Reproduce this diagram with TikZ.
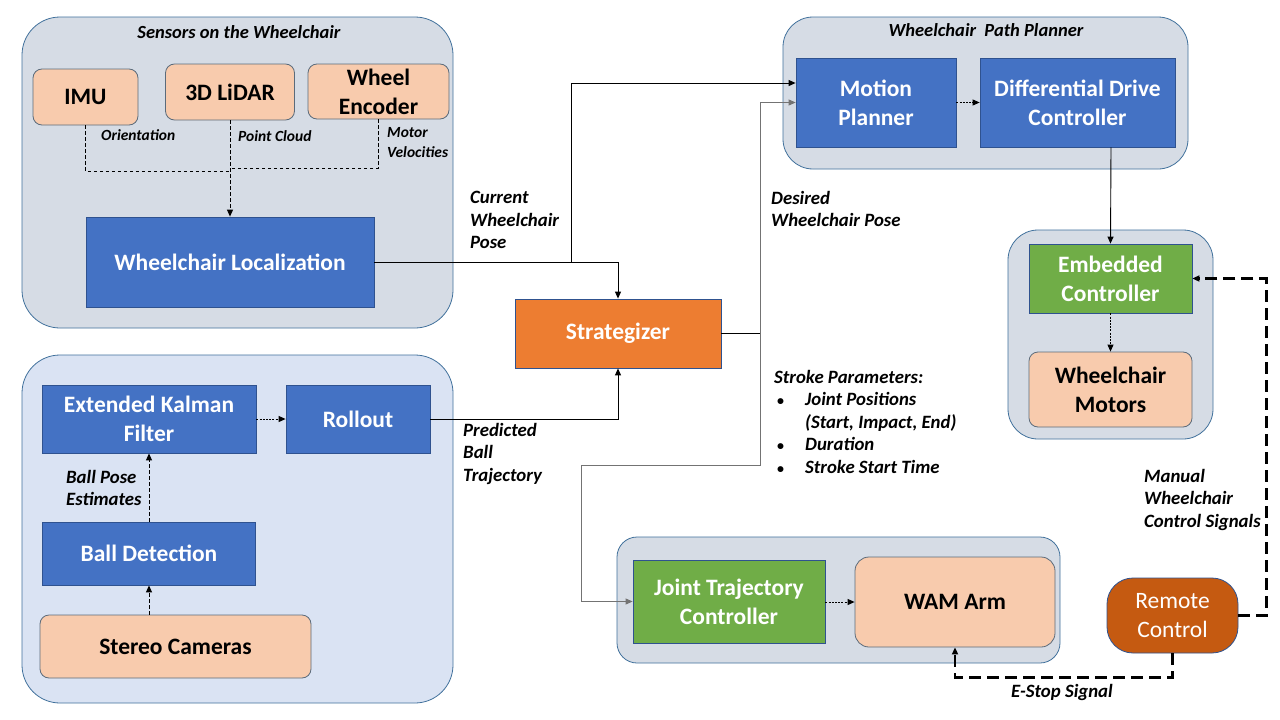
\documentclass[tikz,border=0pt]{standalone}
\usepackage{fontspec}
\setmainfont{Carlito}
\usetikzlibrary{arrows.meta}
\definecolor{grpA}{HTML}{D6DCE5}
\definecolor{grpB}{HTML}{DAE3F3}
\definecolor{grpline}{HTML}{41719C}
\definecolor{blueF}{HTML}{4472C4}
\definecolor{blueL}{HTML}{2F528F}
\definecolor{peach}{HTML}{F8CBAD}
\definecolor{peachL}{HTML}{5B6B7B}
\definecolor{greenF}{HTML}{70AD47}
\definecolor{orangeF}{HTML}{ED7D31}
\definecolor{rustF}{HTML}{C55A11}
\tikzset{
  grp/.style={draw=grpline, line width=0.8pt, rounded corners=38pt},
  bluebox/.style={draw=blueL, fill=blueF, line width=0.8pt, text=white, font=\fontsize{23.5}{29}\selectfont\bfseries, align=center, inner sep=0pt},
  greenbox/.style={bluebox, fill=greenF},
  peachbox/.style={draw=peachL, fill=peach, line width=0.8pt, rounded corners=9pt, text=black, font=\fontsize{23.5}{29}\selectfont\bfseries, align=center, inner sep=0pt},
  gtitle/.style={font=\fontsize{18.5}{20}\selectfont\bfseries\itshape, inner sep=0pt},
  lbl/.style={font=\fontsize{18.8}{22.5}\selectfont\bfseries\itshape, align=left, anchor=north west, inner sep=0pt},
  slbl/.style={font=\fontsize{15.5}{20}\selectfont\bfseries\itshape, align=left, anchor=north west, inner sep=0pt},
  arr/.style={-{Triangle[length=7pt,width=6pt]}},
  conn/.style={line width=0.9pt, draw=black},
  dsh/.style={line width=0.9pt, dash pattern=on 3.5pt off 2.5pt},
  dot/.style={line width=0.9pt, dash pattern=on 2pt off 1.2pt},
  bigdash/.style={line width=2.2pt, dash pattern=on 12pt off 6pt},
}
\newcommand{\bul}{\makebox[31pt][l]{\hspace{3pt}\upshape\fontsize{14}{14}\selectfont\textbullet}}
\begin{document}
\begin{tikzpicture}[x=1pt,y=-1pt]
\useasboundingbox (0,0) rectangle (1280,720);
\fill[white] (0,0) rectangle (1280,720);

% groups
\node[grp, fill=grpA, minimum width=431pt, minimum height=311pt] (gsens) at (237.5,172.5) {};
\node[grp, fill=grpB, minimum width=431pt, minimum height=348pt] (gball) at (237.5,529) {};
\node[grp, fill=grpA, rounded corners=30pt, minimum width=405pt, minimum height=152pt] (gwpp) at (985.5,93) {};
\node[grp, fill=grpA, rounded corners=30pt, minimum width=205pt, minimum height=209pt] (gemb) at (1110.5,334.5) {};
\node[grp, fill=grpA, rounded corners=20pt, minimum width=443pt, minimum height=126pt] (gjtc) at (838.5,600) {};

\node[gtitle] (tsens) at (239,32) {Sensors on the Wheelchair};
\node[gtitle] (twpp) at (986,30) {Wheelchair\ \ Path Planner};

% sensor boxes
\node[peachbox, minimum width=105pt, minimum height=56pt] (imu) at (85.5,97) {IMU};
\node[peachbox, minimum width=129pt, minimum height=56pt] (lidar) at (230,92) {3D LiDAR};
\node[peachbox, minimum width=141pt, minimum height=55pt] (enc) at (378.5,91.5) {Wheel\\Encoder};
\node[bluebox, minimum width=288pt, minimum height=90pt] (loc) at (230,262) {Wheelchair Localization};

% ball boxes
\node[bluebox, minimum width=214pt, minimum height=68pt] (ekf) at (149,419) {Extended Kalman\\Filter};
\node[bluebox, minimum width=144pt, minimum height=68pt] (roll) at (358,419) {Rollout};
\node[bluebox, minimum width=213pt, minimum height=63pt] (bdet) at (149,553.5) {Ball Detection};
\node[peachbox, minimum width=271pt, minimum height=63pt] (stereo) at (175.5,646.5) {Stereo Cameras};

% strategizer
\node[bluebox, fill=orangeF, minimum width=206pt, minimum height=69pt] (strat) at (618,333.5) {Strategizer};

% path planner
\node[bluebox, minimum width=160pt, minimum height=89pt] (mp) at (876,102.5) {Motion\\Planner};
\node[bluebox, minimum width=195pt, minimum height=89pt] (ddc) at (1077.5,102.5) {Differential Drive\\Controller};

% embedded
\node[greenbox, minimum width=163pt, minimum height=69pt] (ec) at (1110.5,278.5) {Embedded\\Controller};
\node[peachbox, minimum width=163pt, minimum height=75pt] (wm) at (1110.5,389.5) {Wheelchair\\Motors};

% arm
\node[greenbox, minimum width=192pt, minimum height=83pt] (jtc) at (729,601.5) {Joint Trajectory\\Controller};
\node[peachbox, rounded corners=14pt, minimum width=200pt, minimum height=90pt] (wam) at (955,602) {WAM Arm};

% remote
\node[draw=blueL, fill=rustF, line width=0.8pt, rounded corners=26pt, text=white, font=\fontsize{23.5}{29}\selectfont, align=center, inner sep=0pt, minimum width=131pt, minimum height=75pt] (rc) at (1172.5,615.5) {Remote\\Control};

% sensor connectors
\coordinate (m1) at (230,171);
\coordinate (m2) at (230,168);
\draw[dsh] (imu.south) |- (m1);
\draw[dsh] (enc.south) |- (m2);
\draw[dsh, arr] (lidar.south) -- (loc.north);
\node[slbl] (lori) at (101,129) {Orientation};
\node[slbl] (lpc) at (238,130) {Point Cloud};
\node[slbl] (lmv) at (387,127) {Motor\\Velocities};

% ball connectors
\draw[dsh, arr] (stereo.north -| bdet.north) -- (bdet.south);
\draw[dsh, arr] (bdet.north) -- (ekf.south);
\draw[dot, arr] (ekf.east) -- (roll.west);
\node[lbl] (lbpe) at (66,470) {Ball Pose\\Estimates};

% localization -> strategizer / motion planner
\coordinate (j1) at (571,262);
\draw[conn, arr] (loc.east) -| (strat.north);
\draw[conn, arr] (j1) |- ([yshift=19.5pt]mp.west);
\node[lbl] (lcwp) at (470,191) {Current\\Wheelchair\\Pose};

% rollout -> strategizer
\draw[conn, arr] (roll.east) -| (strat.south);
\node[lbl] (lpbt) at (463,423) {Predicted\\Ball\\Trajectory};

% strategizer -> motion planner / jtc
\coordinate (s1) at (760,333.5);
\coordinate (s2) at (581,465);
\draw[conn] (strat.east) -- (s1);
\draw[line width=0.9pt, draw=black!55, arr] (s1) |- (mp.west);
\draw[line width=0.9pt, draw=black!55, arr] (s1) |- (s2) |- (jtc.west);
\node[lbl] (ldwp) at (771,191) {Desired\\Wheelchair Pose};
\node[lbl] (lsp) at (774,370) {Stroke Parameters:\\
\bul Joint Positions\\
\hspace{31pt}(Start, Impact, End)\\
\bul Duration\\
\bul Stroke Start Time};

% planner internals
\draw[dot, arr] (mp.east) -- (ddc.west);
\draw[conn, arr] ([xshift=33.5pt]ddc.south) -- (ec.north);
\draw[dot, arr] (ec.south) -- (wm.north);
\draw[dot, arr] (jtc.east |- wam.west) -- (wam.west);

% remote control
\draw[bigdash, arr] (rc.east) -- ++(28,0) |- (ec.east);
\draw[bigdash, arr] (rc.south) -- ++(0,24) -| (wam.south);
\node[lbl] (lmwc) at (1144,469) {Manual\\Wheelchair\\Control Signals};
\node[font=\fontsize{18.8}{20}\selectfont\bfseries\itshape, inner sep=0pt] (lest) at (1062,692) {E-Stop Signal};
\end{tikzpicture}
\end{document}
